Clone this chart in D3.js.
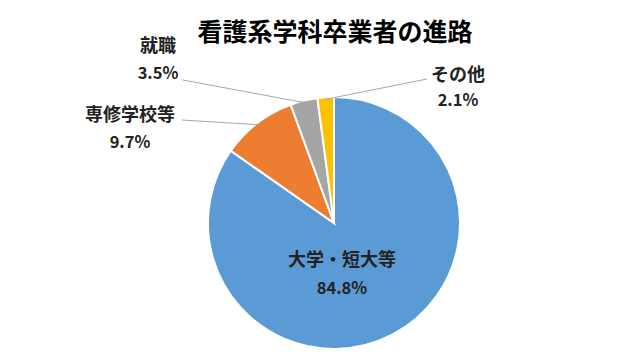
<!DOCTYPE html>
<html><head><meta charset="utf-8">
<script src="https://cdn.jsdelivr.net/npm/d3@7/dist/d3.min.js"></script>
<style>body{margin:0;background:#fff}</style>
</head><body>
<svg id="c" width="640" height="360"></svg>
<script>
const categories = ["大学・短大等", "専修学校等", "就職", "その他"];
const values = [84.8, 9.7, 3.5, 2.1];
const valueLabels = ["84.8%", "9.7%", "3.5%", "2.1%"];
const colors = ["#5B9BD5", "#ED7D31", "#A5A5A5", "#FFC000"];
const title = "看護系学科卒業者の進路";

const svg = d3.select("#c");
const font = "'Noto Sans CJK JP', 'Noto Sans', sans-serif";
const cx = 334, cy = 223, r = 126;

svg.append("text").attr("x", 335).attr("y", 41).attr("text-anchor", "middle")
  .attr("font-family", font).attr("font-weight", "bold").attr("font-size", 25)
  .attr("fill", "#000").text(title);

const pie = d3.pie().sort(null).value(d => d)(values);
const arc = d3.arc().innerRadius(0).outerRadius(r);
const g = svg.append("g").attr("transform", `translate(${cx},${cy})`);
g.selectAll("path").data(pie).join("path")
  .attr("d", arc).attr("fill", (d, i) => colors[i])
  .attr("stroke", "#fff").attr("stroke-width", 2);

const labelPos = [
  {x: 342, y: 266, y2: 294, line: null},
  {x: 130, y: 121, y2: 148, line: [182, 120]},
  {x: 158, y: 52, y2: 79, line: [183, 80]},
  {x: 458, y: 81, y2: 106, line: [427, 79]}
];
labelPos.forEach((p, i) => {
  if (p.line) {
    const mid = (pie[i].startAngle + pie[i].endAngle) / 2;
    const ex = cx + Math.sin(mid) * (r - 2);
    const ey = cy - Math.cos(mid) * (r - 2);
    svg.append("path").attr("d", d3.line()([p.line, [ex, ey]]))
      .attr("stroke", "#A6A6A6").attr("stroke-width", 1).attr("fill", "none");
  }
  svg.append("text").attr("x", p.x).attr("y", p.y).attr("text-anchor", "middle")
    .attr("font-family", font).attr("font-weight", "bold").attr("font-size", 18)
    .attr("fill", "#222").text(categories[i]);
  svg.append("text").attr("x", p.x).attr("y", p.y2).attr("text-anchor", "middle")
    .attr("font-family", font).attr("font-weight", "bold").attr("font-size", 16.5)
    .attr("fill", "#222").text(valueLabels[i]);
});
</script>
</body></html>
